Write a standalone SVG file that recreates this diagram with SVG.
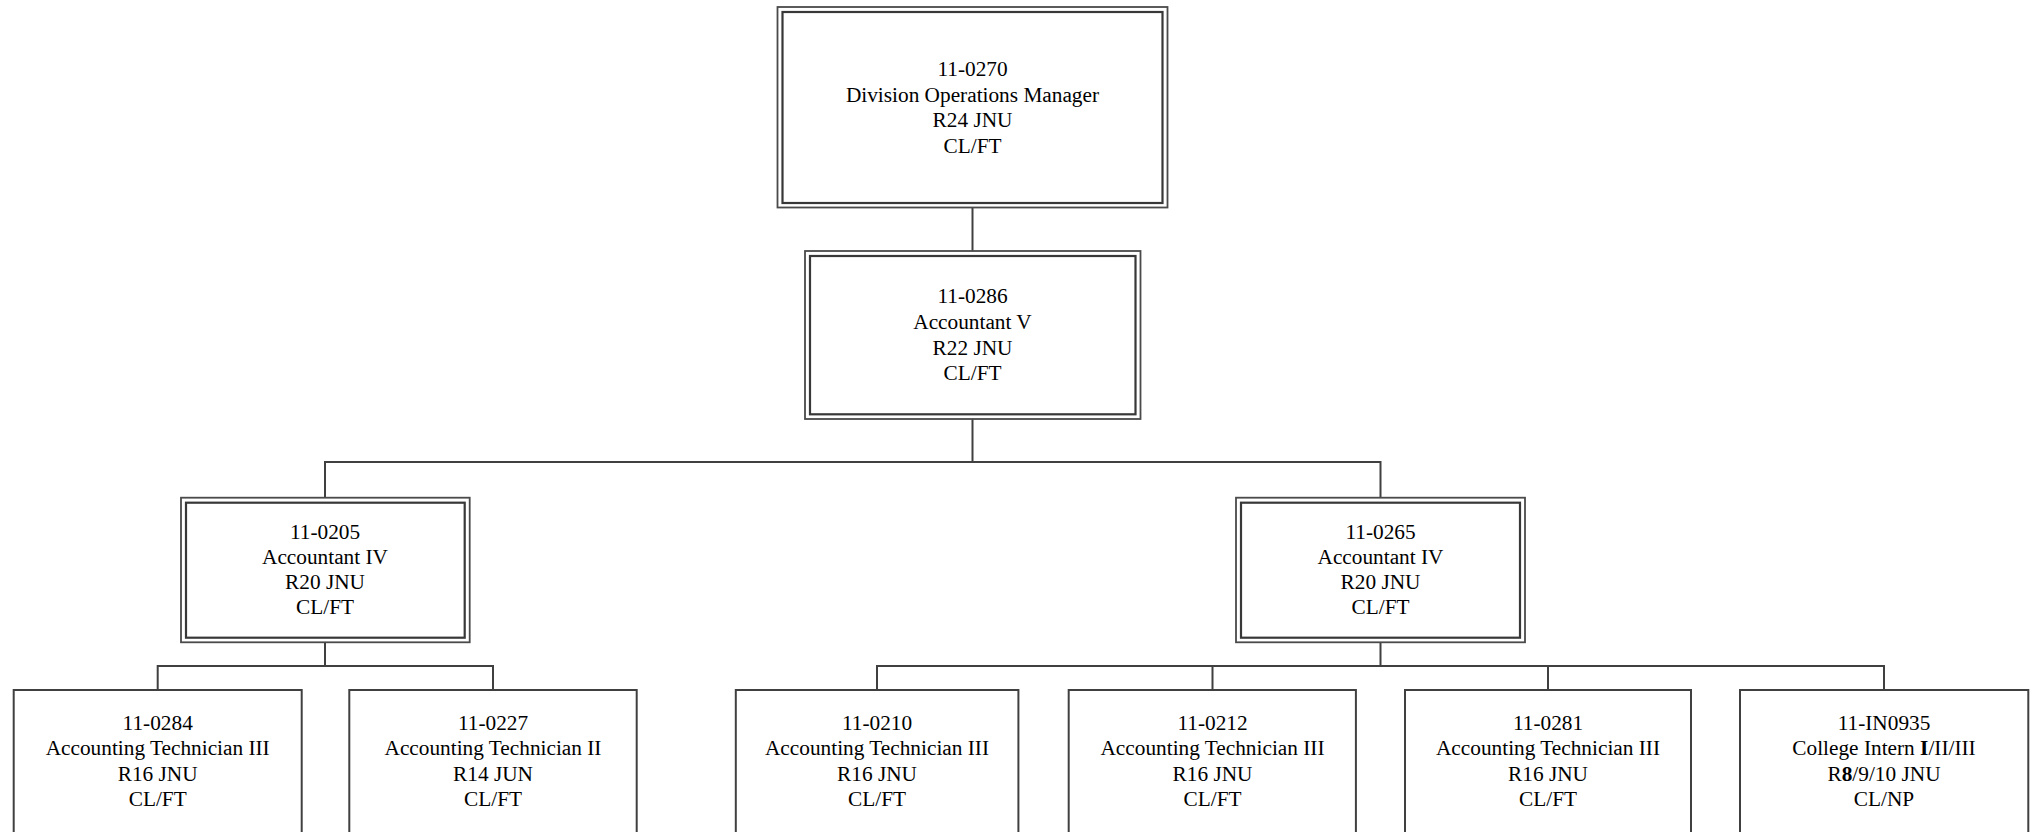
<svg xmlns="http://www.w3.org/2000/svg" width="2036" height="832" viewBox="0 0 2036 832">
<style>
.box{fill:#fff;stroke:#404040;stroke-width:2}
.out{fill:#fff;stroke:#4a4a4a;stroke-width:1.8}
.in{fill:none;stroke:#383838;stroke-width:2.2}
.con{fill:none;stroke:#404040;stroke-width:2}
text{font-family:"Liberation Serif","Times New Roman",serif;font-size:21.3px;fill:#000;text-anchor:middle}
.b{font-weight:bold}
</style>
<rect width="2036" height="832" fill="#fff"/>
<g id="connectors">
<path class="con" d="M972.5 207.5V251"/>
<path class="con" d="M972.5 419V462M325 497.7V462H1380.5V497.7"/>
<path class="con" d="M325 642.3V666M157.7 690V666H493V690"/>
<path class="con" d="M1380.5 642.3V666M877 690V666H1884V690M1212.5 666V690M1548 666V690"/>
</g>
<g id="n0270">
<rect class="out" x="777.5" y="7" width="390" height="200.5"/>
<rect class="in" x="782.5" y="12" width="380" height="191"/>
<text x="972.5" y="76"><tspan x="972.5">11-0270</tspan><tspan x="972.5" dy="25.7">Division Operations Manager</tspan><tspan x="972.5" dy="25.7">R24 JNU</tspan><tspan x="972.5" dy="25.7">CL/FT</tspan></text>
</g>
<g id="n0286">
<rect class="out" x="805" y="251" width="335.5" height="168"/>
<rect class="in" x="810" y="256" width="325.5" height="158.3"/>
<text x="972.5" y="303.3"><tspan x="972.5">11-0286</tspan><tspan x="972.5" dy="25.6">Accountant V</tspan><tspan x="972.5" dy="25.6">R22 JNU</tspan><tspan x="972.5" dy="25.6">CL/FT</tspan></text>
</g>
<g id="n0205">
<rect class="out" x="181" y="497.7" width="288.7" height="144.6"/>
<rect class="in" x="186" y="502.7" width="278.7" height="135"/>
<text x="325" y="539"><tspan x="325">11-0205</tspan><tspan x="325" dy="25">Accountant IV</tspan><tspan x="325" dy="25">R20 JNU</tspan><tspan x="325" dy="25">CL/FT</tspan></text>
</g>
<g id="n0265">
<rect class="out" x="1236" y="497.7" width="289" height="144.6"/>
<rect class="in" x="1241" y="502.7" width="279" height="135"/>
<text x="1380.5" y="539"><tspan x="1380.5">11-0265</tspan><tspan x="1380.5" dy="25">Accountant IV</tspan><tspan x="1380.5" dy="25">R20 JNU</tspan><tspan x="1380.5" dy="25">CL/FT</tspan></text>
</g>
<g id="n0284">
<rect class="box" x="13.7" y="690" width="288" height="200"/>
<text x="157.7" y="729.7"><tspan x="157.7">11-0284</tspan><tspan x="157.7" dy="25.4">Accounting Technician III</tspan><tspan x="157.7" dy="25.4">R16 JNU</tspan><tspan x="157.7" dy="25.4">CL/FT</tspan></text>
</g>
<g id="n0227">
<rect class="box" x="349.3" y="690" width="287.4" height="200"/>
<text x="493" y="729.7"><tspan x="493">11-0227</tspan><tspan x="493" dy="25.4">Accounting Technician II</tspan><tspan x="493" dy="25.4">R14 JUN</tspan><tspan x="493" dy="25.4">CL/FT</tspan></text>
</g>
<g id="n0210">
<rect class="box" x="735.8" y="690" width="282.6" height="200"/>
<text x="877" y="729.7"><tspan x="877">11-0210</tspan><tspan x="877" dy="25.4">Accounting Technician III</tspan><tspan x="877" dy="25.4">R16 JNU</tspan><tspan x="877" dy="25.4">CL/FT</tspan></text>
</g>
<g id="n0212">
<rect class="box" x="1068.7" y="690" width="287.2" height="200"/>
<text x="1212.5" y="729.7"><tspan x="1212.5">11-0212</tspan><tspan x="1212.5" dy="25.4">Accounting Technician III</tspan><tspan x="1212.5" dy="25.4">R16 JNU</tspan><tspan x="1212.5" dy="25.4">CL/FT</tspan></text>
</g>
<g id="n0281">
<rect class="box" x="1405" y="690" width="286" height="200"/>
<text x="1548" y="729.7"><tspan x="1548">11-0281</tspan><tspan x="1548" dy="25.4">Accounting Technician III</tspan><tspan x="1548" dy="25.4">R16 JNU</tspan><tspan x="1548" dy="25.4">CL/FT</tspan></text>
</g>
<g id="nIN0935">
<rect class="box" x="1740" y="690" width="288.3" height="200"/>
<text x="1884" y="729.7"><tspan x="1884">11-IN0935</tspan><tspan x="1884" dy="25.4">College Intern <tspan class="b">I</tspan>/II/III</tspan><tspan x="1884" dy="25.4">R<tspan class="b">8</tspan>/9/10 JNU</tspan><tspan x="1884" dy="25.4">CL/NP</tspan></text>
</g>
</svg>
